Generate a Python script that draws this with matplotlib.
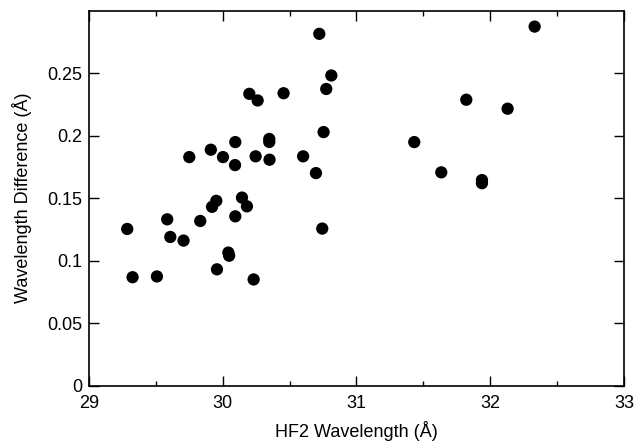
import numpy as np
import matplotlib
matplotlib.use("Agg")
import matplotlib.pyplot as plt
from matplotlib.ticker import MultipleLocator, FixedLocator, FuncFormatter

plt.rcParams['font.family'] = ['Liberation Sans', 'DejaVu Sans']

# HF2 wavelength (A) and wavelength difference (A)
hf2_wavelength = [29.286, 29.326, 29.508, 29.585, 29.608, 29.707, 29.750, 29.832,
                  29.911, 29.920, 29.952, 29.957, 30.002, 30.042, 30.048, 30.094,
                  30.092, 30.094, 30.144, 30.181, 30.199, 30.231, 30.246, 30.261,
                  30.348, 30.348, 30.350, 30.455, 30.601, 30.697, 30.722, 30.744,
                  30.754, 30.774, 30.812, 31.432, 31.634, 31.821, 31.938, 31.938,
                  32.130, 32.332]
wl_difference = [0.1254, 0.0868, 0.0874, 0.1331, 0.1190, 0.1161, 0.1829, 0.1318,
                 0.1888, 0.1431, 0.1479, 0.0931, 0.1829, 0.1065, 0.1040, 0.1949,
                 0.1765, 0.1355, 0.1505, 0.1435, 0.2335, 0.0850, 0.1835, 0.2282,
                 0.1974, 0.1950, 0.1808, 0.2340, 0.1835, 0.1701, 0.2815, 0.1257,
                 0.2029, 0.2374, 0.2482, 0.1949, 0.1707, 0.2288, 0.1620, 0.1645,
                 0.2216, 0.2873]

fig = plt.figure(figsize=(6.36, 4.41), dpi=100)
ax = fig.add_axes([0.1399, 0.1254, 0.9811 - 0.1399, 0.9757 - 0.1254])

ax.scatter(hf2_wavelength, wl_difference, s=78, color='black', edgecolors='none', zorder=3)

ax.set_xlim(29, 33)
ax.set_ylim(0, 0.3)
ax.xaxis.set_major_locator(MultipleLocator(1))
ax.xaxis.set_minor_locator(MultipleLocator(0.5))
ax.yaxis.set_major_locator(FixedLocator([0, 0.05, 0.1, 0.15, 0.2, 0.25]))
ax.yaxis.set_major_formatter(FuncFormatter(lambda v, p: '%g' % round(v, 2)))

ax.tick_params(which='both', direction='in', top=True, right=True, labelsize=13, width=1)
ax.tick_params(which='major', length=7)
ax.tick_params(which='minor', length=3.5)
ax.tick_params(axis='x', pad=7)
ax.tick_params(axis='y', pad=5)
for sp in ax.spines.values():
    sp.set_linewidth(1.2)

ax.set_xlabel('HF2 Wavelength (Å)', fontsize=13, labelpad=6)
ax.set_ylabel('Wavelength Difference (Å)', fontsize=13, labelpad=11)

fig.savefig('out.png', dpi=100)
